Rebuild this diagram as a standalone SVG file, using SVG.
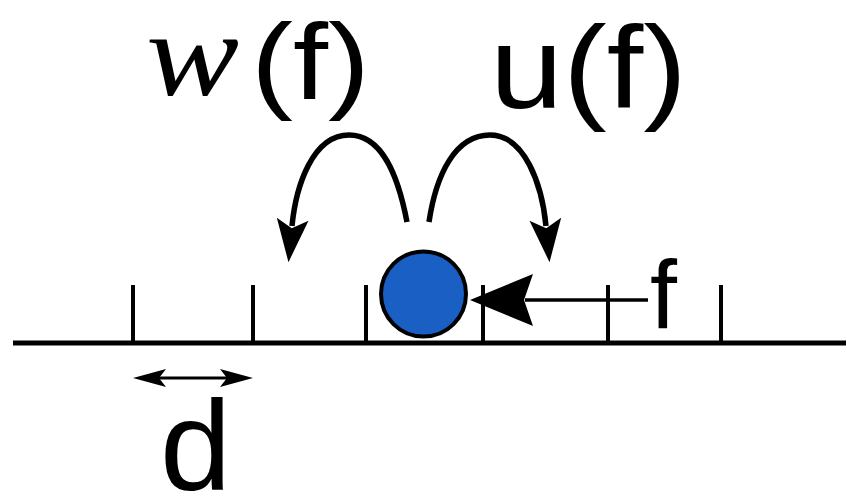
<svg xmlns="http://www.w3.org/2000/svg" width="847" height="497" viewBox="0 0 847 497">
<style>
.ln{stroke:#000;fill:none}
.hd{fill:#000;stroke:none}
</style>
<defs>
<marker id="hop" markerUnits="userSpaceOnUse" markerWidth="50" markerHeight="40" viewBox="-2 -16 44 32" refX="6" refY="0" orient="auto">
<path d="M0,-14 L38,0 L0,14 L8,0 Z" fill="#000"/>
</marker>
</defs>
<rect width="847" height="497" fill="#fff"/>
<g id="axis">
<line class="ln" x1="13" y1="343" x2="846" y2="343" stroke-width="5"/>
<g class="ln" stroke-width="4">
<line x1="133" y1="285" x2="133" y2="343"/>
<line x1="253" y1="285" x2="253" y2="343"/>
<line x1="366" y1="285" x2="366" y2="343"/>
<line x1="483" y1="285" x2="483" y2="343"/>
<line x1="608" y1="285" x2="608" y2="343"/>
<line x1="721" y1="285" x2="721" y2="343"/>
</g>
</g>
<g id="particle">
<circle cx="423.5" cy="294" r="42.5" fill="#1a5fc4" stroke="#000" stroke-width="4"/>
</g>
<g id="connectors">
<path class="ln" stroke-width="5.5" d="M407,222 C398,175 382,135 349,135 C313,135 296,185 292,226" marker-end="url(#hop)"/>
<path class="ln" stroke-width="5.5" d="M429,222 C436,175 455,135 490,135 C525,135 542,185 546,226" marker-end="url(#hop)"/>
<line class="ln" stroke-width="3.5" x1="648" y1="300" x2="525" y2="300"/>
<path class="hd" d="M470,300 L533,274 L524,300 L533,326 Z"/>
<line class="ln" stroke-width="3" x1="140" y1="378" x2="246" y2="378"/>
<path class="hd" d="M133,378 L166,369 L159,378 L166,387 Z"/>
<path class="hd" d="M253,378 L220,369 L227,378 L220,387 Z"/>
</g>
<g id="labels" fill="#000">
<text x="146" y="95" font-family="Liberation Serif, serif" font-style="italic" font-size="120" textLength="93" lengthAdjust="spacingAndGlyphs">w</text>
<text x="251" y="99" font-family="Liberation Sans, Arial, sans-serif" font-size="108" textLength="119" lengthAdjust="spacingAndGlyphs">(f)</text>
<text x="490" y="108" font-family="Liberation Sans, Arial, sans-serif" font-size="116" textLength="197" lengthAdjust="spacingAndGlyphs">u(f)</text>
<text x="650" y="328" font-family="Liberation Sans, Arial, sans-serif" font-size="97">f</text>
<text x="160" y="490" font-family="Liberation Sans, Arial, sans-serif" font-size="128">d</text>
</g>
</svg>
